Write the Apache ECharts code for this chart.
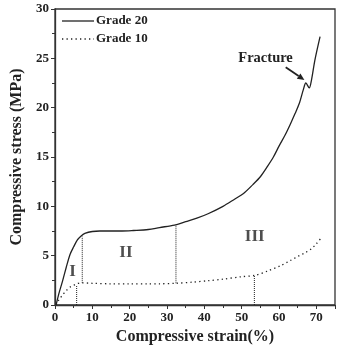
<!DOCTYPE html>
<html>
<head>
<meta charset="utf-8">
<script src="https://cdn.jsdelivr.net/npm/echarts@6/dist/echarts.min.js"></script>
<style>
  html, body { margin: 0; padding: 0; background: #fff; }
  #chart { width: 338px; height: 352px; }
</style>
</head>
<body>
<div id="chart"></div>
<script>
(function () {
    'use strict';

    var FONT = '"Liberation Serif", "Times New Roman", serif';
    var INK = '#222';

    // Grade 20 (solid)
    var strain20 = [0.3, 1, 2, 3, 4, 5, 6, 7, 8, 10, 12, 15, 18, 21, 25, 28, 32, 35, 38, 41, 45, 48, 50.5, 53, 55, 57, 58.5, 60, 61.6, 63, 64.3, 65.5, 66.5, 67.2, 68.1, 68.7, 69.6, 71];
    var stress20 = [0, 1.1, 2.4, 3.8, 5.1, 5.9, 6.6, 7.0, 7.25, 7.45, 7.5, 7.5, 7.5, 7.55, 7.65, 7.85, 8.1, 8.45, 8.8, 9.25, 10.0, 10.7, 11.3, 12.2, 13.0, 14.1, 15.0, 16.1, 17.2, 18.3, 19.4, 20.5, 21.8, 22.5, 22.0, 22.8, 24.8, 27.2];

    // Grade 10 (dotted)
    var strain10 = [0.3, 1, 2, 3, 4, 5, 5.8, 7, 10, 15, 20, 25, 28, 32.4, 37, 41, 45, 50, 53.5, 57, 60.5, 63, 65.2, 67, 68.7, 70, 71.3];
    var stress10 = [0, 0.5, 1.0, 1.45, 1.8, 2.0, 2.15, 2.25, 2.2, 2.15, 2.15, 2.15, 2.15, 2.2, 2.32, 2.46, 2.62, 2.87, 3.0, 3.45, 4.0, 4.5, 4.95, 5.3, 5.7, 6.2, 6.8];

    // region boundaries: [strain, lower stress, upper stress]
    var dividers = [
        [5.8, 0, 1.95],
        [7.3, 2.25, 6.95],
        [32.4, 2.2, 8.1],
        [53.4, 0, 2.95]
    ];

    var regionLabels = ['I', 'II', 'III'];
    var regionPos = [[4.7, 3.4], [19, 5.3], [53.5, 6.9]];

    var legendNames = ['Grade 20', 'Grade 10'];

    var xTicks = [0, 10, 20, 30, 40, 50, 60, 70];
    var yTicks = [0, 5, 10, 15, 20, 25, 30];

    var DOTS = [1.3, 3.2];

    function zip(xs, ys) {
        return xs.map(function (x, i) { return [x, ys[i]]; });
    }

    var series = [
        {
            name: legendNames[0], type: 'line', data: zip(strain20, stress20),
            symbol: 'none', smooth: 0.3, silent: true,
            lineStyle: { color: INK, width: 1.3 },
            z: 3
        },
        {
            name: legendNames[1], type: 'line', data: zip(strain10, stress10),
            symbol: 'none', smooth: 0.3, silent: true,
            lineStyle: { color: INK, width: 1.3, type: DOTS },
            z: 3
        }
    ];

    dividers.forEach(function (d) {
        series.push({
            type: 'line', data: [[d[0], d[1]], [d[0], d[2]]],
            symbol: 'none', silent: true,
            lineStyle: { color: INK, width: 1, type: [1, 1] }
        });
    });

    series.push({
        type: 'scatter', symbolSize: 0, silent: true,
        data: regionPos.map(function (p, i) { return { value: p, name: regionLabels[i] }; }),
        label: {
            show: true, position: 'inside', formatter: '{b}',
            fontFamily: FONT, fontWeight: 'bold', fontSize: 17, color: INK
        }
    });

    var chart = echarts.init(document.getElementById('chart'), null, { renderer: 'canvas' });
    chart.setOption({
        animation: false,
        backgroundColor: '#fff',
        grid: {
            left: 55, right: 3, top: 9, bottom: 47,
            show: true, borderColor: '#333', borderWidth: 1.3
        },
        xAxis: {
            type: 'value', min: 0, max: 75, interval: 10,
            name: 'Compressive strain(%)', nameLocation: 'middle', nameGap: 24,
            nameTextStyle: { fontFamily: FONT, fontWeight: 'bold', fontSize: 16, color: INK },
            axisLine: { lineStyle: { color: '#333', width: 1.3 } },
            axisTick: { show: true, length: 4, lineStyle: { color: '#333' } },
            minorTick: { show: true, splitNumber: 2, length: 3, lineStyle: { color: '#333' } },
            axisLabel: {
                fontFamily: FONT, fontWeight: 'bold', fontSize: 13, color: INK, margin: 6,
                formatter: function (v) { return xTicks.indexOf(v) >= 0 ? String(v) : ''; }
            },
            splitLine: { show: false }
        },
        yAxis: {
            type: 'value', min: 0, max: 30, interval: 5,
            name: 'Compressive stress (MPa)', nameLocation: 'middle', nameGap: 28,
            nameTextStyle: { fontFamily: FONT, fontWeight: 'bold', fontSize: 16, color: INK },
            axisLine: { show: true, lineStyle: { color: '#333', width: 1.3 } },
            axisTick: { show: true, length: 4, lineStyle: { color: '#333' } },
            minorTick: { show: true, splitNumber: 2, length: 3, lineStyle: { color: '#333' } },
            axisLabel: {
                fontFamily: FONT, fontWeight: 'bold', fontSize: 13, color: INK, margin: 6,
                formatter: function (v) { return yTicks.indexOf(v) >= 0 ? String(v) : ''; }
            },
            splitLine: { show: false }
        },
        series: series
    });

    // annotation + hand-drawn legend
    function px(p) { return chart.convertToPixel({ gridIndex: 0 }, p); }
    var tPos = px([56.4, 25.0]);
    var aFrom = px([61.8, 24.1]);
    var aTo = px([66.8, 22.8]);
    var ang = Math.atan2(aTo[1] - aFrom[1], aTo[0] - aFrom[0]);
    var hl = 7, hw = 3.2;
    var back = [aTo[0] - hl * Math.cos(ang), aTo[1] - hl * Math.sin(ang)];

    var graphics = [
        {
            type: 'text', x: tPos[0], y: tPos[1], silent: true,
            style: {
                text: 'Fracture', fontFamily: FONT, fontWeight: 'bold', fontSize: 14.5,
                fill: INK, align: 'center', verticalAlign: 'middle'
            }
        },
        {
            type: 'line', silent: true,
            shape: { x1: aFrom[0], y1: aFrom[1], x2: back[0], y2: back[1] },
            style: { stroke: INK, lineWidth: 1.8 }
        },
        {
            type: 'polygon', silent: true,
            shape: {
                points: [
                    aTo,
                    [back[0] + hw * Math.sin(ang), back[1] - hw * Math.cos(ang)],
                    [back[0] - hw * Math.sin(ang), back[1] + hw * Math.cos(ang)]
                ]
            },
            style: { fill: INK }
        }
    ];

    legendNames.forEach(function (name, i) {
        var y = 21 + i * 18;
        graphics.push({
            type: 'line', silent: true,
            shape: { x1: 62, y1: y, x2: 94, y2: y },
            style: { stroke: INK, lineWidth: 1.3, lineDash: i === 0 ? null : DOTS }
        });
        graphics.push({
            type: 'text', x: 96, y: y, silent: true,
            style: {
                text: name, fontFamily: FONT, fontWeight: 'bold', fontSize: 13,
                fill: INK, align: 'left', verticalAlign: 'middle'
            }
        });
    });

    chart.setOption({ graphic: graphics });
})();
</script>
</body>
</html>
